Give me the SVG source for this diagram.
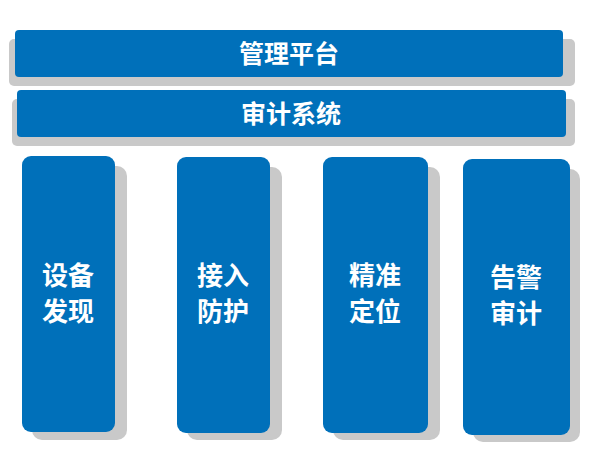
<svg xmlns="http://www.w3.org/2000/svg" width="600" height="465" viewBox="0 0 600 465">
<style>
.b{fill:#0070BA}.s{fill:#C9C9C9}
text{fill:#fff;font-family:"Noto Sans CJK SC",sans-serif;font-weight:bold;text-anchor:middle}
.h{font-size:25px}.c{font-size:26px}
</style>
<rect width="600" height="465" fill="#fff"/>
<g id="top"><rect class="s" x="9" y="39" width="566" height="47" rx="5"/><rect class="b" x="15" y="30" width="548" height="47" rx="4"/><text class="h" x="289" y="63">管理平台</text></g>
<g id="audit"><rect class="s" x="12" y="99" width="563" height="47" rx="5"/><rect class="b" x="17" y="90" width="549" height="47" rx="4"/><text class="h" x="291" y="123">审计系统</text></g>
<g id="n1"><rect class="s" x="32" y="166" width="95" height="274" rx="10"/><rect class="b" x="22" y="156" width="93" height="276" rx="9"/><text class="c" x="68" y="285">设备</text><text class="c" x="68" y="321">发现</text></g>
<g id="n2"><rect class="s" x="187" y="167" width="95" height="273" rx="10"/><rect class="b" x="177" y="157" width="93" height="276" rx="9"/><text class="c" x="223" y="285">接入</text><text class="c" x="223" y="321">防护</text></g>
<g id="n3"><rect class="s" x="333" y="167" width="107" height="273" rx="10"/><rect class="b" x="323" y="157" width="105" height="276" rx="9"/><text class="c" x="375" y="285">精准</text><text class="c" x="375" y="321">定位</text></g>
<g id="n4"><rect class="s" x="473" y="169" width="107" height="273" rx="10"/><rect class="b" x="463" y="159" width="107" height="276" rx="9"/><text class="c" x="516" y="287">告警</text><text class="c" x="516" y="323">审计</text></g>
<g id="connectors"/>
</svg>
